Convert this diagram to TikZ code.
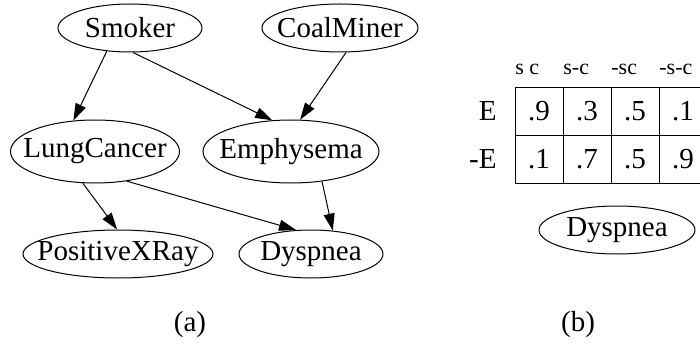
\documentclass[tikz,border=0pt]{standalone}
\usepackage{fontspec}
\setmainfont{Liberation Serif}
\usetikzlibrary{shapes.geometric,arrows.meta}

\newcommand{\vlabel}[1]{\makebox[0pt]{#1}}

\tikzset{
  VertexStyle/.style = {draw, ellipse, inner sep=0pt, line width=0.5pt,
    font=\fontsize{14.5}{17}\selectfont},
  EdgeStyle/.style = {-{Triangle[length=8.5pt,width=5.5pt]}, line width=0.5pt},
  CellStyle/.style = {draw, minimum width=24pt, minimum height=24pt, inner sep=0pt,
    line width=0.5pt, font=\fontsize{14.5}{17}\selectfont},
  HeadStyle/.style = {anchor=west, inner sep=0pt, font=\fontsize{11}{13}\selectfont},
  TextStyle/.style = {inner sep=0pt, font=\fontsize{14.5}{17}\selectfont}
}

\begin{document}
\begin{tikzpicture}[x=0.5pt, y=-0.5pt]
\useasboundingbox (0,0) rectangle (700,347);
\clip (0,0) rectangle (700,347);

% (a) the network
\node[VertexStyle, minimum width=72pt,   minimum height=24pt] (Smoker)       at (130,28)    {\vlabel{Smoker}};
\node[VertexStyle, minimum width=78pt,   minimum height=24pt] (CoalMiner)    at (340,28)    {\vlabel{CoalMiner}};
\node[VertexStyle, minimum width=84.5pt, minimum height=31.5pt] (LungCancer) at (95,151.5)  {\vlabel{LungCancer}};
\node[VertexStyle, minimum width=88pt,   minimum height=31.5pt] (Emphysema)  at (291,151.5) {\vlabel{Emphysema}};
\node[VertexStyle, minimum width=95pt,   minimum height=24pt] (PositiveXRay) at (118,254)   {\vlabel{PositiveXRay}};
\node[VertexStyle, minimum width=72pt,   minimum height=24pt] (Dyspnea)      at (311,254)   {\vlabel{Dyspnea}};

\draw[EdgeStyle] (Smoker.225)     -- (LungCancer.125);
\draw[EdgeStyle] (Smoker.-83)     -- (Emphysema.121);
\draw[EdgeStyle] (CoalMiner.-76)  -- (Emphysema.74);
\draw[EdgeStyle] (LungCancer.-111) -- (PositiveXRay.92);
\draw[EdgeStyle] (LungCancer.-43) -- (Dyspnea.122);
\draw[EdgeStyle] (Emphysema.-44)  -- (Dyspnea.47);

\node[TextStyle] (capA) at (190,325) {(a)};

% (b) the table for Dyspnea
\foreach \hd/\vt/\vb [count=\i] in {{s c}/.9/.1, {s-c}/.3/.7, {-sc}/.5/.5, {-s-c}/.1/.9} {
  \node[HeadStyle] (head\i) at (515+48*\i-48,69) {\hd};
  \node[CellStyle] (top\i) at (539+48*\i-48,111.5) {\vt};
  \node[CellStyle] (bot\i) at (539+48*\i-48,159.5) {\vb};
}
\node[TextStyle, anchor=east] (rowE)  at (497,111.5) {E};
\node[TextStyle, anchor=east] (rowNE) at (497,159.5) {-E};

\node[VertexStyle, minimum width=78pt, minimum height=24pt] (DyspneaB) at (617,230) {\vlabel{Dyspnea}};

\node[TextStyle] (capB) at (578,325) {(b)};
\end{tikzpicture}
\end{document}
